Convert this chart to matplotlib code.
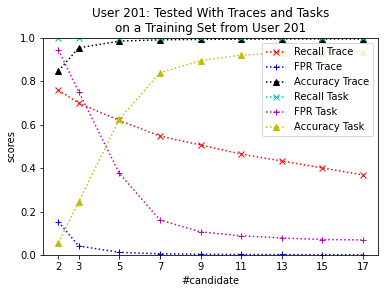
import matplotlib
matplotlib.use('Agg')
import matplotlib.pyplot as plt

candidates = [2, 3, 5, 7, 9, 11, 13, 15, 17]

recall_trace = [0.76, 0.70, 0.62, 0.548, 0.507, 0.465, 0.433, 0.401, 0.369]
fpr_trace = [0.152, 0.041, 0.012, 0.005, 0.003, 0.002, 0.002, 0.001, 0.001]
accuracy_trace = [0.849, 0.955, 0.986, 0.992, 0.994, 0.995, 0.996, 0.996, 0.996]
recall_task = [1.0, 1.0, 1.0, 1.0, 1.0, 1.0, 1.0, 1.0, 1.0]
fpr_task = [0.945, 0.753, 0.376, 0.161, 0.106, 0.088, 0.078, 0.071, 0.069]
accuracy_task = [0.057, 0.246, 0.625, 0.840, 0.896, 0.922, 0.929, 0.933, 0.938]


def main():
	dpi = 72
	fig, ax = plt.subplots(figsize=(386 / dpi, 293 / dpi), dpi=dpi)

	ax.plot(candidates, recall_trace, 'rx:', label='Recall Trace')
	ax.plot(candidates, fpr_trace, 'b+:', label='FPR Trace')
	ax.plot(candidates, accuracy_trace, 'k^:', label='Accuracy Trace')
	ax.plot(candidates, recall_task, 'cx:', label='Recall Task')
	ax.plot(candidates, fpr_task, 'm+:', label='FPR Task')
	ax.plot(candidates, accuracy_task, 'y^:', label='Accuracy Task')

	ax.set_xticks(candidates)
	ax.set_ylim(0, 1)
	ax.set_xlabel('#candidate')
	ax.set_ylabel('scores')
	ax.set_title('User 201: Tested With Traces and Tasks\non a Training Set from User 201')
	ax.legend(loc='upper right')

	fig.subplots_adjust(left=0.112, right=0.980, top=0.870, bottom=0.130)
	fig.savefig('out.png', dpi=dpi)


if __name__ == '__main__':
	main()
